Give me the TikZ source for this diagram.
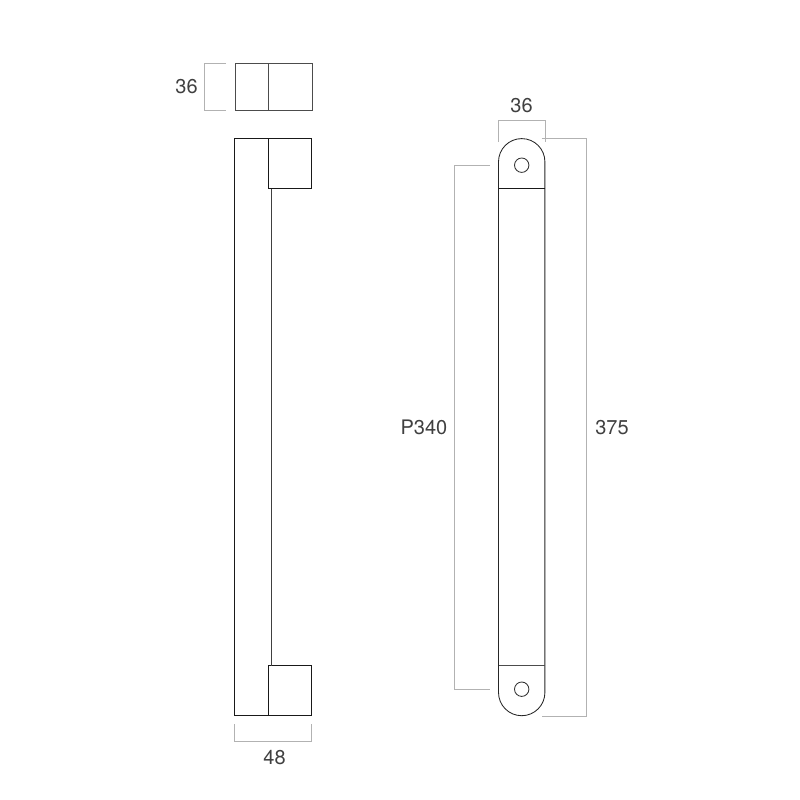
\documentclass[tikz,border=0pt]{standalone}
\usepackage{fontspec}
\setmainfont{TeX Gyre Heros}
\tikzset{
  part/.style={draw=black!90,line width=0.85pt,line join=miter},
  topview/.style={draw=black!70,line width=1pt},
  dimline/.style={draw=black!30,line width=0.85pt},
  dimtext/.style={text=black!75,font=\fontsize{20}{22}\selectfont,inner sep=0pt}
}
\begin{document}
\begin{tikzpicture}[x=1pt,y=-1pt]
\useasboundingbox (0,0) rectangle (800,800);
% top end view
\draw[topview] (235,63.8) rectangle (312,110);
\draw[topview,line width=0.85pt] (268.5,63.8) -- (268.5,110);
% side view
\draw[part] (311.5,138.5) -- (234.5,138.5) -- (234.5,715.5) -- (311.5,715.5) -- (311.5,665.5) -- (268.5,665.5) -- (268.5,715.5);
\draw[part] (311.5,138.5) -- (311.5,188.5) -- (268.5,188.5) -- (268.5,138.5);
\draw[part,draw=black!75] (271,188.5) -- (271,665.5);
% front view
\draw[part,draw=black!85] (498.5,161.8) arc[start angle=180,end angle=360,radius=23.2] -- (544.9,692.5) arc[start angle=0,end angle=180,radius=23.2] -- cycle;
\draw[part] (498.5,188.5) -- (544.9,188.5);
\draw[part,draw=black!70] (498.5,665.5) -- (544.9,665.5);
\draw[part,draw=black!80] (521.7,165.2) circle[radius=7.2];
\draw[part,draw=black!80] (521.7,689.2) circle[radius=7.2];
% dimensions
\draw[dimline] (226,63.8) -- (204.5,63.8) -- (204.5,110.2) -- (226,110.2);
\draw[dimline] (234.7,724) -- (234.7,741) -- (311.5,741) -- (311.5,724);
\draw[dimline] (498.5,142) -- (498.5,120.8) -- (545.6,120.8) -- (545.6,142);
\draw[dimline] (541.7,138.3) -- (586.5,138.3) -- (586.5,716.3) -- (541.7,716.3);
\draw[dimline] (490,165.3) -- (454.5,165.3) -- (454.5,689.3) -- (490,689.3);
% labels
\node[dimtext] (d36a) at (186.5,87) {36};
\node[dimtext] (d36b) at (521.5,105.5) {36};
\node[dimtext] (d48) at (274.5,757.5) {48};
\node[dimtext] (dp340) at (424,427.5) {P340};
\node[dimtext] (d375) at (612,427.5) {375};
\end{tikzpicture}
\end{document}
